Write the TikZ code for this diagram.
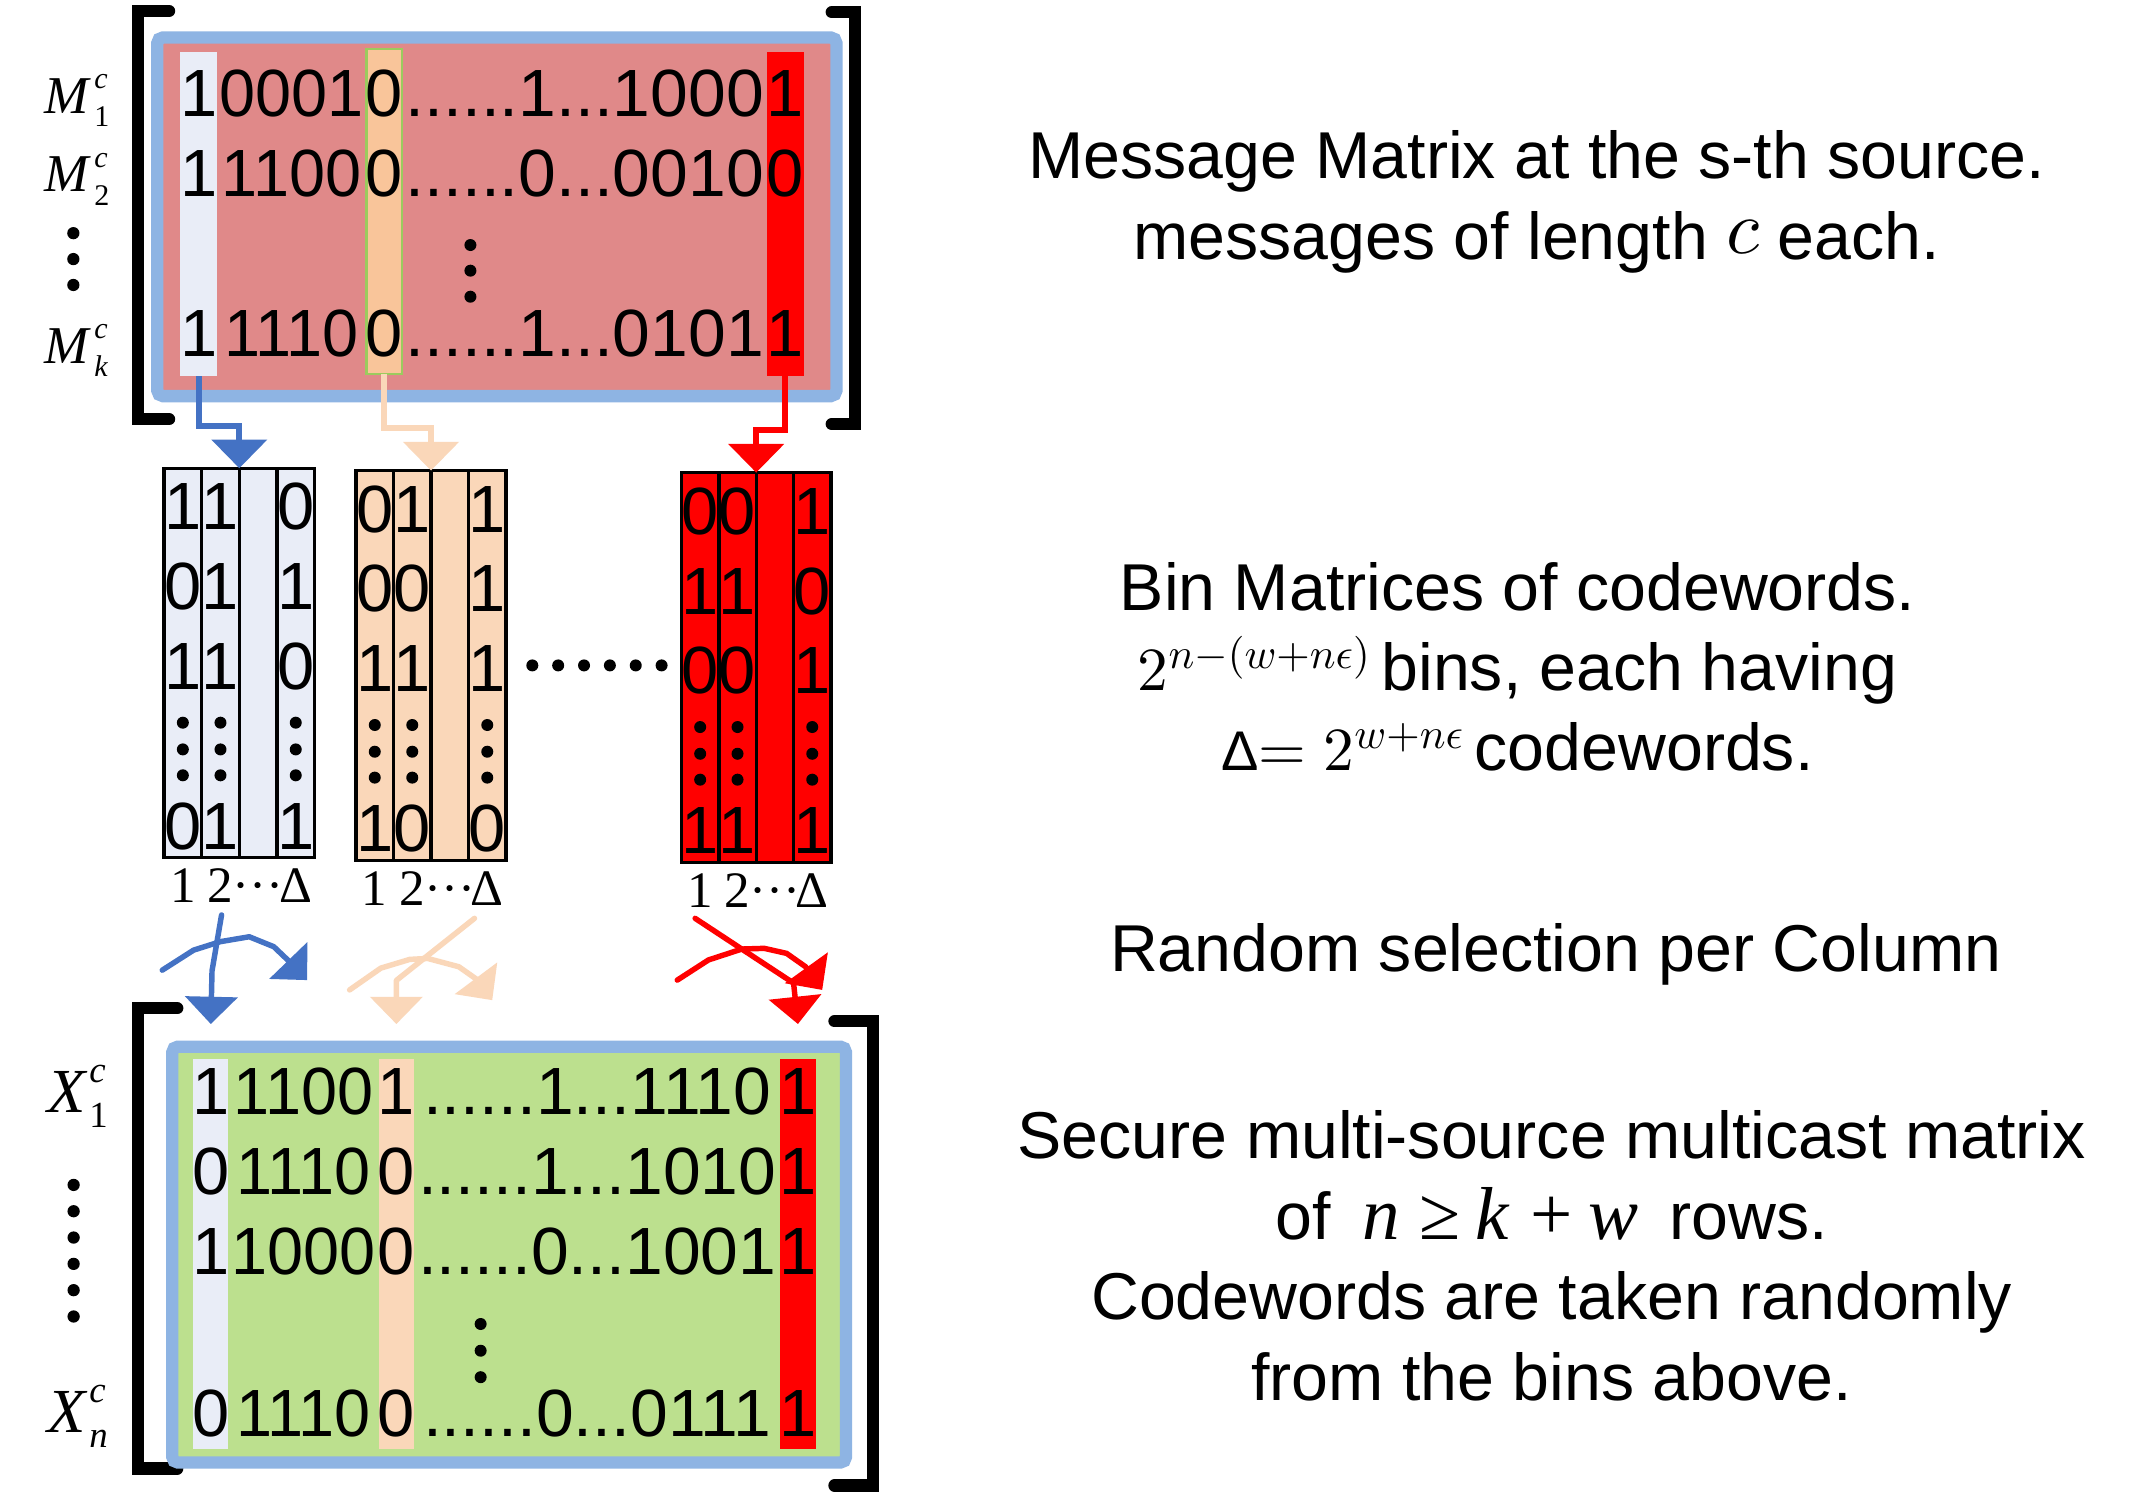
\documentclass[tikz,border=0pt]{standalone}
\usepackage{graphicx}
\usepackage[no-math]{fontspec}
\setmainfont{Liberation Sans}
\newfontfamily\tnr{Liberation Serif}
\DeclareFontShape{OML}{cmm}{m}{it}{<->cmmi10}{}
\DeclareFontShape{OMS}{cmsy}{m}{n}{<->cmsy10}{}
\DeclareFontShape{OT1}{cmr}{m}{n}{<->cmr10}{}
\DeclareFontShape{OMX}{cmex}{m}{n}{<->cmex10}{}
\usetikzlibrary{arrows.meta,calc}
\definecolor{mblue}{HTML}{8EB4E3}
\definecolor{mpink}{HTML}{E08989}
\definecolor{lblue}{HTML}{E9EDF7}
\definecolor{morange}{HTML}{F9C59A}
\definecolor{mpeach}{HTML}{FAD7B9}
\definecolor{mgreen}{HTML}{BCE08E}
\definecolor{ablue}{HTML}{4472C4}
\definecolor{mred}{HTML}{FF0000}
\definecolor{ogreen}{HTML}{9BCB5E}
% matrix row: #1 name, #2 column prefix, #3 baseline, #4 first digit, #5 next four, #6 sixth digit, #7 middle, #8 last digit
\newcommand\mrow[8]{%
  \coordinate (#1y) at (0,#3);
  \node[dig] (#1a) at (#2cB |- #1y) {#4};
  \node[dig] (#1c) at (#2cO |- #1y) {#6};
  \node[dig] (#1e) at (#2cR |- #1y) {#8};
  \node[dig] (#1b) at ($(#1a.base east)!0.5!(#1c.base west)$) {\scalebox{0.97}[1]{#5}};
  \node[dig] (#1d) at ($(#1c.base east)!0.5!(#1e.base west)$) {\scalebox{1.015}[1]{#7}};}
% bin column: #1 bin, #2 column index, #3..#6 digits
\newcommand\bincol[6]{%
  \pgfmathsetmacro\fr{(#2-0.5)/4}
  \coordinate (#1c#2) at ($(#1.north west)!\fr!(#1.north east)$);
  \node[dig] (#1c#2r1) at ($(#1c#2)+(0,45.2)$) {#3};
  \node[dig] (#1c#2r2) at ($(#1c#2)+(0,103.7)$) {#4};
  \node[dig] (#1c#2r3) at ($(#1c#2)+(0,162.3)$) {#5};
  \node[dig] (#1c#2r4) at ($(#1c#2)+(0,279.4)$) {#6};
  \foreach \dy in {186.6,206.2,225.2} \fill ($(#1c#2)+(0,\dy)$) circle (4.4);}
\newcommand\binlab[1]{%
  \foreach \k/\t in {1/1,2/2,3/{···},4/Δ} {%
    \pgfmathsetmacro\fr{(\k-0.5)/4}
    \node[tim] (#1l\k) at ($(#1.south west)!\fr!(#1.south east)+(0,33)$) {\t};}}
\newcommand\binsep[1]{%
  \foreach \f in {0.25,0.5,0.75}
    \draw[line width=2.5pt] ($(#1.north west)!\f!(#1.north east)$) -- ($(#1.south west)!\f!(#1.south east)$);}
\newcommand\mlab[1]{\textit{M}\kern2pt\rlap{\raisebox{18pt}{\fontsize{22}{22}\selectfont\textit{c}}}\raisebox{-10pt}{\fontsize{22}{22}\selectfont #1}}
\newcommand\xlab[1]{\textit{X}\kern1pt\rlap{\raisebox{22pt}{\fontsize{27}{27}\selectfont\textit{c}}}\raisebox{-11pt}{\fontsize{27}{27}\selectfont #1}}
\begin{document}
\begin{tikzpicture}[x=1pt,y=-1pt,
  dig/.style={inner sep=0pt,outer sep=0pt,anchor=base,font=\fontsize{49}{49}\selectfont},
  tim/.style={inner sep=0pt,outer sep=0pt,anchor=base,font=\tnr\fontsize{37.5}{37.5}\selectfont},
  lab/.style={inner sep=0pt,outer sep=0pt,anchor=base west},
  mat/.style={draw=mblue,line width=9pt,rounded corners=4pt,inner sep=0pt,outer sep=0pt},
  colbox/.style={inner sep=0pt,outer sep=0pt},
  binbox/.style={draw=black,line width=2.5pt,inner sep=0pt,outer sep=0pt},
  brk/.style={line width=9pt,line cap=round,line join=miter},
  tarr/.style={line width=4.5pt,line join=miter,-{Triangle[width=40pt,length=21pt]}},
  rarr/.style={line width=4pt,line cap=round,line join=round,-{Triangle[width=38pt,length=20pt]}},
  txt/.style={align=center,inner sep=0pt,font=\fontsize{48.6}{59}\selectfont}]
\fill[white] (0,0) rectangle (1568,1096);
\useasboundingbox (0,0) rectangle (1568,1096);

% ---------- top message matrix ----------
\draw[brk] (124,8) -- (101,8) -- (101,307.5) -- (124,307.5);
\draw[brk] (610,9) -- (627,9) -- (627,311) -- (610,311);
\node[mat,fill=mpink,minimum width=498pt,minimum height=263pt] (TM) at (364.4,159) {};
\node[colbox,fill=lblue,minimum width=27pt,minimum height=238pt] (TcB) at (145.75,156.9) {};
\node[colbox,fill=morange,draw=ogreen,line width=1.5pt,minimum width=26pt,minimum height=238pt] (TcO) at (281.8,155.1) {};
\node[colbox,fill=mred,minimum width=27pt,minimum height=238pt] (TcR) at (575.8,157.1) {};
\mrow{ta}{T}{85.6}{1}{0001}{0}{......1...1000}{1}
\mrow{tb}{T}{144.3}{1}{1100}{0}{......0...0010}{0}
\mrow{tk}{T}{261.6}{1}{1110}{0}{......1...0101}{1}
\foreach \y in {179.7,198.5,217.6} \fill (345,\y) circle (4.4);
\node[lab,font=\tnr\fontsize{39}{39}\selectfont] (lM1) at (33,83) {\mlab{1}};
\node[lab,font=\tnr\fontsize{39}{39}\selectfont] (lM2) at (33,140.5) {\mlab{2}};
\node[lab,font=\tnr\fontsize{39}{39}\selectfont] (lMk) at (33,266.4) {\mlab{\textit{k}}};
\foreach \y in {171,190,209} \fill (53.8,\y) circle (4.5);

% ---------- bins ----------
\node[binbox,fill=lblue,minimum width=110.4pt,minimum height=285.5pt] (binB) at (175.5,486.15) {};
\node[binbox,fill=mpeach,minimum width=110pt,minimum height=285.8pt] (binP) at (316.1,488) {};
\node[binbox,fill=mred,minimum width=109.6pt,minimum height=286pt] (binR) at (554.6,489.6) {};
\binsep{binB}\binsep{binP}\binsep{binR}
\bincol{binB}{1}{1}{0}{1}{0}
\bincol{binB}{2}{1}{1}{1}{1}
\bincol{binB}{4}{0}{1}{0}{1}
\bincol{binP}{1}{0}{0}{1}{1}
\bincol{binP}{2}{1}{0}{1}{0}
\bincol{binP}{4}{1}{1}{1}{0}
\bincol{binR}{1}{0}{1}{0}{1}
\bincol{binR}{2}{0}{1}{0}{1}
\bincol{binR}{4}{1}{0}{1}{1}
\binlab{binB}\binlab{binP}\binlab{binR}
\foreach \i in {0,...,5} \fill (390.4+\i*18.96,488) circle (4.4);

% ---------- arrows from message matrix to bins ----------
\draw[tarr,ablue] (TcB.south) |- ($(binB.north)+(0,-31)$) -- (binB.north);
\draw[tarr,mpeach] (TcO.south) |- ($(binP.north)+(0,-31)$) -- (binP.north);
\draw[tarr,mred] (TcR.south) |- ($(binR.north)+(0,-31)$) -- (binR.north);

% ---------- bottom multicast matrix ----------
\draw[brk] (130,739.5) -- (101,739.5) -- (101,1077) -- (130,1077);
\draw[brk] (612,749) -- (640,749) -- (640,1089.5) -- (612,1089.5);
\node[mat,fill=mgreen,minimum width=494pt,minimum height=305pt] (BM) at (373.4,920.1) {};
\node[colbox,fill=lblue,minimum width=25.6pt,minimum height=286pt] (BcB) at (154.6,920) {};
\node[colbox,fill=mpeach,minimum width=26pt,minimum height=286pt] (BcO) at (290.7,920) {};
\node[colbox,fill=mred,minimum width=26pt,minimum height=286pt] (BcR) at (585.2,920) {};
\mrow{ba}{B}{817.6}{1}{1100}{1}{......1...1110}{1}
\mrow{bb}{B}{876.2}{0}{1110}{0}{......1...1010}{1}
\mrow{bc}{B}{934.8}{1}{1000}{0}{......0...1001}{1}
\mrow{bn}{B}{1053.4}{0}{1110}{0}{......0...0111}{1}
\foreach \y in {971,990.6,1010} \fill (352.5,\y) circle (4.4);
\node[lab,font=\tnr\fontsize{46}{46}\selectfont] (lX1) at (35,816) {\xlab{1}};
\node[lab,font=\tnr\fontsize{46}{46}\selectfont] (lXn) at (35,1050.6) {\xlab{\textit{n}}};
\foreach \y in {869,888.3,907.6,926.9,946.2,965.5} \fill (54,\y) circle (4.5);

% ---------- random selection arrows ----------
\coordinate (sB) at (162.5,671);
\coordinate (sP) at (348,673.5);
\coordinate (sR) at (509.8,673.5);
\draw[rarr,ablue] (sB) -- (155.5,712) -- ($(BcB.north)+(0,-26)$);
\draw[rarr,ablue] (119,711.5) -- (142,696.8) -- (161.6,690.6) -- (182.8,687) -- (200.8,694.3) -- (211,704) -- (225.3,718.8);
\draw[rarr,mpeach] (sP) -- (290.7,719) -- ($(BcO.north)+(0,-26)$);
\draw[rarr,mpeach] (256.4,726) -- (279.3,710) -- (300.5,703.6) -- (313.6,702.9) -- (336.5,709) -- (349.6,718.2) -- (361,733.5);
\draw[rarr,mred] (sR) -- (582,721) -- ($(BcR.north)+(0,-26)$);
\draw[rarr,mred] (496.7,718.8) -- (519.6,704) -- (544.1,696) -- (560.5,695.5) -- (576.9,699.2) -- (590.8,709) -- (603,726);

% ---------- right-hand texts ----------
\node[txt] (tMsg) at (1127,148) {Message Matrix at the s-th source.\\messages of length \raisebox{4pt}{\fontsize{56}{56}\selectfont$c$} each.};
\node[txt] (tBin) at (1113,489) {Bin Matrices of codewords.\\{\fontsize{45}{45}\selectfont$2^{n-(w+n\epsilon)}$}\,bins, each having\\{\fontsize{41}{41}\selectfont Δ}{\fontsize{45}{45}\selectfont$=2^{w+n\epsilon}$}\,codewords.};
\node[txt] (tRnd) at (1141,700) {Random selection per Column};
\node[txt] (tSec) at (1138,921) {Secure multi-source multicast matrix\\of \kern10pt{\tnr\fontsize{55}{55}\selectfont\textit{n}\kern14pt≥\kern11pt\textit{k}\kern15pt+\kern12pt\textit{w}} \kern9pt rows.\\Codewords are taken randomly\\from the bins above.};
\end{tikzpicture}
\end{document}
